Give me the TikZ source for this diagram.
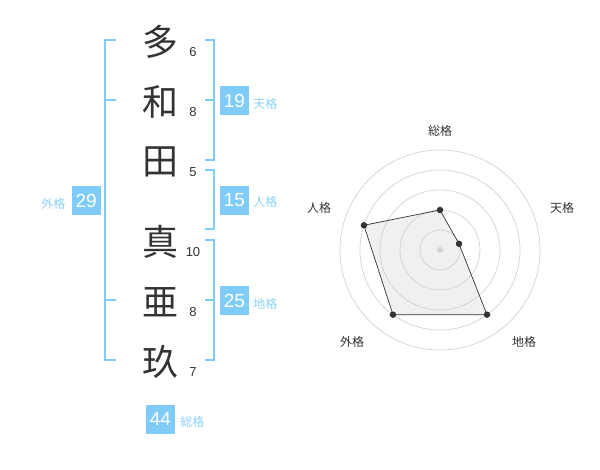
\documentclass[tikz,border=0pt]{standalone}
\usepackage{fontspec}
\setmainfont{Liberation Sans}
\newfontfamily\cjk{Noto Sans CJK JP}
\usetikzlibrary{calc,positioning}
\definecolor{kakublue}{RGB}{128,204,248}
\definecolor{kakutext}{RGB}{140,208,248}
\definecolor{inkgray}{RGB}{51,51,51}
\definecolor{ringgray}{RGB}{210,210,210}
\definecolor{areagray}{RGB}{240,240,240}
\tikzstyle{kanji} = [inner sep=0pt,text=inkgray,font=\cjk\fontsize{36}{36}\selectfont]
\tikzstyle{strokes} = [inner sep=0pt,text=inkgray,font=\fontsize{13}{13}\selectfont]
\tikzstyle{kakubox} = [fill=kakublue,text=white,minimum width=29pt,minimum height=29pt,inner sep=0pt,font=\fontsize{19}{19}\selectfont]
\tikzstyle{kakuname} = [inner sep=0pt,text=kakutext,font=\cjk\fontsize{12}{12}\selectfont]
\tikzstyle{bracket} = [draw=kakublue,line width=1.5pt]
\tikzstyle{axisname} = [inner sep=0pt,text=inkgray,font=\cjk\fontsize{12}{12}\selectfont]
\tikzstyle{ring} = [draw=ringgray,line width=0.7pt]
\tikzstyle{dot} = [circle,fill=inkgray,inner sep=0pt,minimum size=6.5pt]

\begin{document}
\begin{tikzpicture}[x=1pt,y=-1pt]
\useasboundingbox (0,0) rectangle (600,470);

% name and stroke counts
\foreach \ch/\y/\n [count=\i] in {多/40/6,和/100/8,田/160/5,真/240/10,亜/300/8,玖/360/7}
{
	\node (char\i) [kanji] at (160,\y+2) {\ch};
	\node (num\i) [strokes] at (193,\y+12.5) {\n};
}

% brackets
\draw[bracket] (116,40)--(105,40)--(105,360)--(116,360);
\draw[bracket] (105,100)--(116,100);
\draw[bracket] (105,300)--(116,300);
\draw[bracket] (205,40)--(214,40)--(214,160)--(205,160);
\draw[bracket] (205,100)--(214,100);
\draw[bracket] (205,170)--(214,170)--(214,229)--(205,229);
\draw[bracket] (205,240)--(214,240)--(214,360)--(205,360);
\draw[bracket] (205,300)--(214,300);

% kaku boxes
\node (ten) [kakubox] at (234.5,100.5) {19};
\node (tenname) [kakuname,right=4pt of ten,yshift=-3pt] {天格};
\node (jin) [kakubox] at (234.5,200.5) {15};
\node (jinname) [kakuname,right=4pt of jin,yshift=-1pt] {人格};
\node (chi) [kakubox] at (234.5,300.5) {25};
\node (chiname) [kakuname,right=4pt of chi,yshift=-3pt] {地格};
\node (gai) [kakubox] at (86.2,200.5) {29};
\node (gainame) [kakuname,left=6pt of gai,yshift=-3pt] {外格};
\node (sou) [kakubox] at (160.5,419) {44};
\node (souname) [kakuname,right=5pt of sou,yshift=-3pt] {総格};

% radar chart
\coordinate (hub) at (440,250);
\foreach \a/\r [count=\k] in {90/40,18/20,-54/80,-126/80,162/80}
{
	\coordinate (pt\k) at ($(hub)+(\a:\r pt)$);
}
\fill[areagray] (pt1)--(pt2)--(pt3)--(pt4)--(pt5)--cycle;
\foreach \r in {20,40,60,80,100}
{
	\draw[ring] (hub) circle (\r pt);
}
\draw[draw=inkgray,line width=0.7pt] (pt1)--(pt2)--(pt3)--(pt4)--(pt5)--cycle;
\node (hubdot) [circle,fill=ringgray,inner sep=0pt,minimum size=6pt] at (hub) {};
\foreach \k in {1,...,5}
{
	\node (dot\k) [dot] at (pt\k) {};
}
\foreach \t/\x/\y [count=\k] in {総格/440/131,天格/562/208,地格/524/342,外格/352/342,人格/319/208}
{
	\node (axis\k) [axisname] at (\x,\y) {\t};
}

\end{tikzpicture}
\end{document}
